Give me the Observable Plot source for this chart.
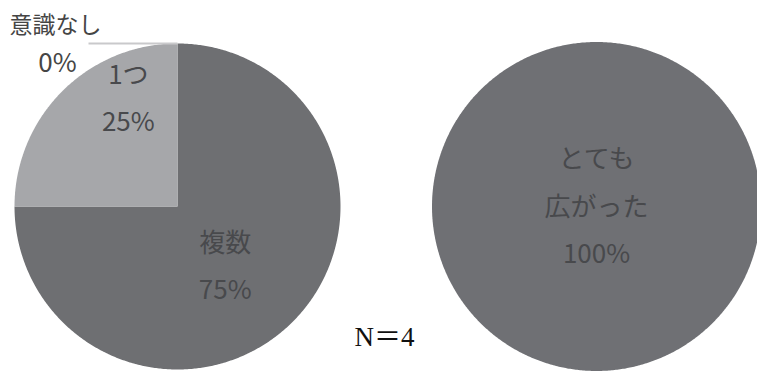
<!DOCTYPE html>
<html><head><meta charset="utf-8">
<script src="https://cdn.jsdelivr.net/npm/d3@7"></script>
<script src="https://cdn.jsdelivr.net/npm/@observablehq/plot@0.6"></script>
<style>body{margin:0;background:#fff;} #chart svg{display:block;}</style>
</head><body><div id="chart"></div>
<script>
// ---- data ----
const leftCategories = ["複数", "1つ", "意識なし"];
const leftValues = [75, 25, 0];
const rightCategories = ["とても\n広がった"];
const rightValues = [100];
const sampleLabel = "N＝4";

// ---- styles / layout ----
const leftColors = ["#6e6f72", "#a6a7aa", "#d0d0d2"];
const rightColors = ["#6f7074"];
const W = 757, H = 372;
const pies = [
  {cats: leftCategories, vals: leftValues, colors: leftColors, cx: 177, cy: 206, r: 163,
   labels: [{a: 141.5, f: 0.47}, {a: 335.6, f: 0.73}, null]},
  {cats: rightCategories, vals: rightValues, colors: rightColors, cx: 596, cy: 206, r: 164.5,
   labels: [{a: 0, f: 0}]}
];

const polys = [], texts = [], links = [], outName = [], outPct = [];
pies.forEach((p, pi) => {
  const arcs = d3.pie().sort(null).value(d => d)(p.vals);
  arcs.forEach((a, i) => {
    const key = pi + ":" + p.cats[i];
    if (a.endAngle > a.startAngle) {
      const pts = [];
      if (a.endAngle - a.startAngle < 2 * Math.PI - 1e-9) pts.push({key, x: p.cx, y: p.cy});
      const n = Math.max(2, Math.ceil((a.endAngle - a.startAngle) / (Math.PI / 360)));
      for (let j = 0; j <= n; j++) {
        const t = a.startAngle + (a.endAngle - a.startAngle) * j / n;
        pts.push({key, x: p.cx + p.r * Math.sin(t), y: p.cy - p.r * Math.cos(t)});
      }
      polys.push(...pts);
    }
    const lab = p.labels[i];
    if (lab) {
      const t = lab.a * Math.PI / 180;
      texts.push({x: p.cx + lab.f * p.r * Math.sin(t), y: p.cy - lab.f * p.r * Math.cos(t),
                  txt: p.cats[i] + "\n" + p.vals[i] + "%"});
    } else {
      // zero slice: label outside with leader line
      const t = a.startAngle;
      const ex = p.cx + p.r * Math.sin(t), ey = p.cy - p.r * Math.cos(t);
      outName.push({x: p.cx - 122, y: ey - 18, txt: p.cats[i]});
      outPct.push({x: p.cx - 120, y: ey + 20, txt: p.vals[i] + "%"});
      links.push({x1: ex, y1: ey, x2: p.cx - 89, y2: ey});
    }
  });
});
const colorDomain = [], colorRange = [];
pies.forEach((p, pi) => p.cats.forEach((c, i) => { colorDomain.push(pi + ":" + c); colorRange.push(p.colors[i]); }));

const sans = "'Noto Sans CJK JP', 'Noto Sans', sans-serif";
const chart = Plot.plot({
  width: W, height: H,
  margin: 0,
  x: {domain: [0, W], axis: null},
  y: {domain: [H, 0], axis: null},
  color: {domain: colorDomain, range: colorRange},
  style: {background: "#fff", overflow: "visible"},
  marks: [
    Plot.line(polys, {x: "x", y: "y", z: "key", fill: "key", stroke: null}),
    Plot.link(links, {x1: "x1", y1: "y1", x2: "x2", y2: "y2", stroke: "#c9c9cb", strokeWidth: 2}),
    Plot.text(texts, {x: "x", y: "y", text: "txt", fontSize: 26, lineHeight: 1.82, dy: -6,
      fill: "#48494c", fontFamily: sans}),
    Plot.text(outName, {x: "x", y: "y", text: "txt", fontSize: 23,
      fill: "#454545", fontFamily: sans}),
    Plot.text(outPct, {x: "x", y: "y", text: "txt", fontSize: 26,
      fill: "#454545", fontFamily: sans}),
    Plot.text([sampleLabel], {x: () => 384, y: () => 337, text: d => d, fontSize: 27,
      fill: "#111", fontFamily: "'Liberation Serif', 'Noto Sans CJK JP', serif"})
  ]
});
document.getElementById("chart").appendChild(chart);
</script>
</body></html>
